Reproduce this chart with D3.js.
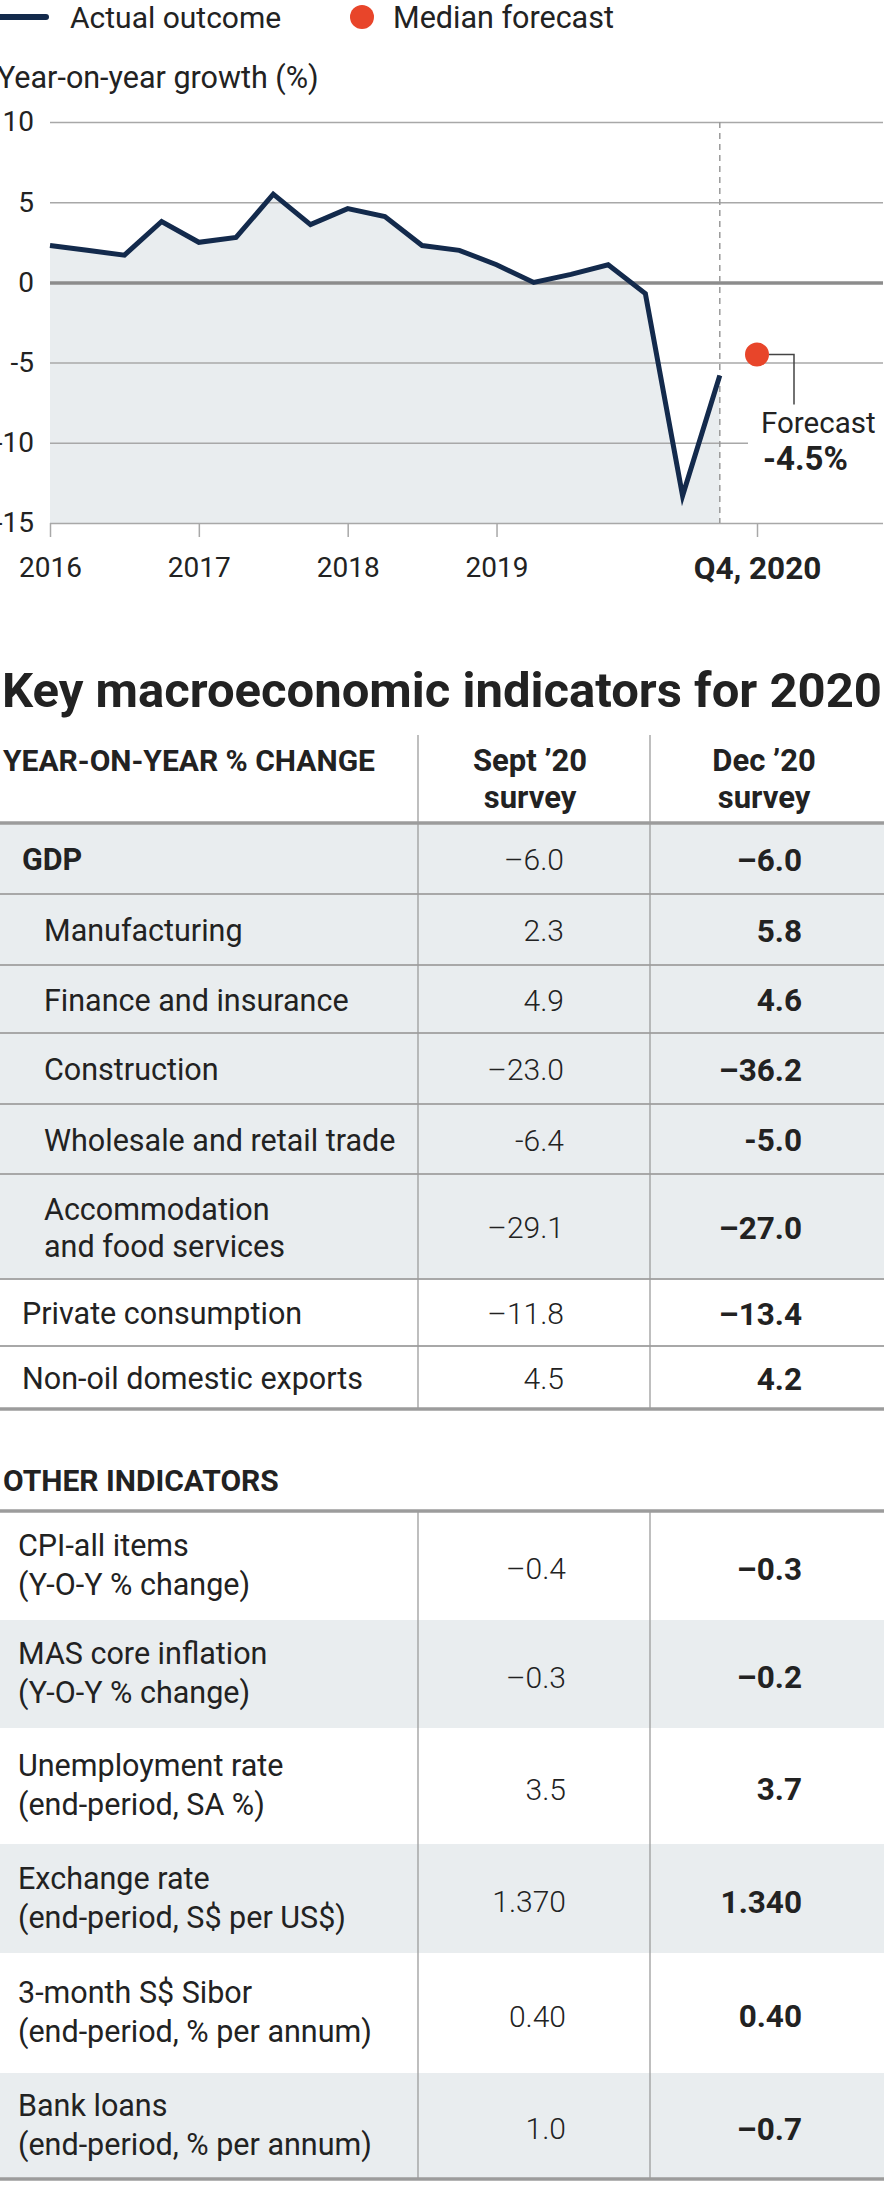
<!DOCTYPE html>
<html><head><meta charset="utf-8">
<script src="https://cdn.jsdelivr.net/npm/d3@7"></script>
<style>
body{margin:0;background:#fff}
svg{display:block}
text{font-family:Roboto,"Noto Sans",sans-serif;fill:#222}
</style>
</head><body>
<svg id="c" width="887" height="2186"></svg>
<script>
// ---------- DATA ----------
const quarterIndex = d3.range(19); // 2016 Q1 ... 2020 Q3
const actualGrowth = [2.3, 2.0, 1.7, 3.8, 2.5, 2.8, 5.5, 3.6, 4.6, 4.1, 2.3, 2.0, 1.1, 0.0, 0.5, 1.1, -0.7, -13.3, -5.8];
const forecastQuarter = 19;      // Q4 2020
const forecastValue = -4.5;
const yTicks = [10, 5, 0, -5, -10, -15];
const xTickQuarters = [0, 4, 8, 12, 19];
const xTickLabels = ["2016", "2017", "2018", "2019", "Q4, 2020"];

const gdpLabels = ["GDP", "Manufacturing", "Finance and insurance", "Construction", "Wholesale and retail trade",
  ["Accommodation", "and food services"], "Private consumption", "Non-oil domestic exports"];
const gdpSept = ["–6.0", "2.3", "4.9", "–23.0", "-6.4", "–29.1", "–11.8", "4.5"];
const gdpDec  = ["–6.0", "5.8", "4.6", "–36.2", "-5.0", "–27.0", "–13.4", "4.2"];

const otherLabels = [["CPI-all items", "(Y-O-Y % change)"], ["MAS core inflation", "(Y-O-Y % change)"],
  ["Unemployment rate", "(end-period, SA %)"], ["Exchange rate", "(end-period, S$ per US$)"],
  ["3-month S$ Sibor", "(end-period, % per annum)"], ["Bank loans", "(end-period, % per annum)"]];
const otherSept = ["–0.4", "–0.3", "3.5", "1.370", "0.40", "1.0"];
const otherDec  = ["–0.3", "–0.2", "3.7", "1.340", "0.40", "–0.7"];

// ---------- STYLE / LAYOUT ----------
const NAVY = "#132a4c", RED = "#e8452a", SHADE = "#e9edef", GRID = "#a8a8a8", RULE = "#9c9c9c";
const svg = d3.select("#c");
const plotL = 50, plotR = 883;
const LBL = 30.5, SEPT = 30, DEC = 31.5;

const x = d3.scaleLinear().domain([0, 19]).range([50, 757]);
const y = d3.scaleLinear().domain([-15, 10]).range([523, 122]);

// Legend
svg.append("line").attr("x1", -4).attr("x2", 46).attr("y1", 17).attr("y2", 17)
  .attr("stroke", NAVY).attr("stroke-width", 6).attr("stroke-linecap", "round");
svg.append("text").attr("x", 70).attr("y", 17).attr("dy", "0.35em").attr("font-size", 30).attr("fill", "#333").text("Actual outcome");
svg.append("circle").attr("cx", 362).attr("cy", 17).attr("r", 12).attr("fill", RED);
svg.append("text").attr("x", 393).attr("y", 17).attr("dy", "0.35em").attr("font-size", 30.5).attr("fill", "#333").text("Median forecast");

svg.append("text").attr("x", -3).attr("y", 77).attr("dy", "0.35em").attr("font-size", 30.5).attr("fill", "#333").text("Year-on-year growth (%)");

// Area fill
const pts = quarterIndex.map((q, i) => ({q, v: actualGrowth[i]}));
svg.append("path").datum(pts)
  .attr("d", d3.area().x(d => x(d.q)).y0(y(-15)).y1(d => y(d.v)))
  .attr("fill", SHADE);

// Y axis with gridlines
const yAx = svg.append("g").attr("transform", `translate(${plotL},0)`)
  .call(d3.axisLeft(y).tickValues(yTicks).tickSize(-(plotR - plotL)).tickPadding(16).tickFormat(d3.format("d")));
yAx.select(".domain").remove();
yAx.selectAll(".tick line").attr("stroke", GRID).attr("stroke-width", 1.5)
  .attr("x2", d => d === -10 ? (748 - plotL) : (plotR - plotL));
yAx.selectAll(".tick").filter(d => d === 0).select("line").attr("stroke", "#8c8c8c").attr("stroke-width", 3.5);
yAx.selectAll(".tick text").attr("font-size", 28).attr("fill", "#333").style("font-family", "Roboto")
  .text(d => d3.format("d")(d).replace("−", "-"));

// X axis ticks
const xAx = svg.append("g").attr("transform", `translate(0,${y(-15)})`)
  .call(d3.axisBottom(x).tickValues(xTickQuarters).tickSize(14).tickPadding(20).tickFormat((d, i) => xTickLabels[i]));
xAx.select(".domain").remove();
xAx.selectAll(".tick line").attr("stroke", GRID).attr("stroke-width", 1.5);
xAx.selectAll(".tick text").attr("fill", "#333").style("font-family", "Roboto")
  .attr("font-weight", d => d === 19 ? 700 : 400).attr("font-size", d => d === 19 ? 31.5 : 28);

// dashed divider at last actual
svg.append("line").attr("x1", x(18)).attr("x2", x(18)).attr("y1", y(10)).attr("y2", y(-15))
  .attr("stroke", "#9a9a9a").attr("stroke-width", 1.5).attr("stroke-dasharray", "6,5");

// Line
svg.append("path").datum(pts)
  .attr("d", d3.line().x(d => x(d.q)).y(d => y(d.v)))
  .attr("fill", "none").attr("stroke", NAVY).attr("stroke-width", 5).attr("stroke-linejoin", "miter").attr("stroke-miterlimit", 6);

// Forecast
const fx = x(forecastQuarter), fy = y(forecastValue);
svg.append("path").attr("d", `M${fx + 12},${fy} H${fx + 37} V${fy + 50}`)
  .attr("fill", "none").attr("stroke", "#444").attr("stroke-width", 1.5);
svg.append("circle").attr("cx", fx).attr("cy", fy).attr("r", 12).attr("fill", RED);
svg.append("text").attr("x", fx + 4).attr("y", 423).attr("dy", "0.35em").attr("font-size", 29.5).text("Forecast");
svg.append("text").attr("x", fx + 6).attr("y", 458).attr("dy", "0.35em").attr("font-size", 33).attr("font-weight", 700)
  .text(d3.format(".1f")(forecastValue).replace("−", "-") + "%");

// ---------- TABLE 1 ----------
svg.append("text").attr("x", 2).attr("y", 690).attr("dy", "0.35em").attr("font-size", 49).attr("font-weight", 700)
  .text("Key macroeconomic indicators for 2020");

const col1 = 418, col2 = 650, sepR = 564, decR = 802, tblR = 884;

svg.append("text").attr("x", 3).attr("y", 760).attr("dy", "0.35em").attr("font-size", 30).attr("font-weight", 700).text("YEAR-ON-YEAR % CHANGE");
[["Sept ’20", 530], ["Dec ’20", 764]].forEach(([t, cx]) => {
  svg.append("text").attr("x", cx).attr("y", 760).attr("dy", "0.35em").attr("text-anchor", "middle").attr("font-size", 31).attr("font-weight", 700).text(t);
  svg.append("text").attr("x", cx).attr("y", 797).attr("dy", "0.35em").attr("text-anchor", "middle").attr("font-size", 31).attr("font-weight", 700).text("survey");
});

function rowLayout(top, heights) {
  const out = []; let t = top;
  heights.forEach(h => { out.push({top: t, h}); t += h; });
  return out;
}
const gdpRowsL = rowLayout(823, [71, 71, 68, 71, 70, 105, 67, 63]);
const gdpKind = ["total", "sub", "sub", "sub", "sub", "sub", "main", "main"];
const g1 = svg.append("g");
gdpRowsL.forEach((r, i) => {
  const shaded = gdpKind[i] !== "main";
  if (shaded) g1.append("rect").attr("x", 0).attr("y", r.top).attr("width", tblR).attr("height", r.h).attr("fill", SHADE);
  const cy = r.top + r.h / 2 + 1;
  const lx = gdpKind[i] === "sub" ? 44 : 22;
  const lab = Array.isArray(gdpLabels[i]) ? gdpLabels[i] : [gdpLabels[i]];
  lab.forEach((t, j) => {
    g1.append("text").attr("x", lx).attr("y", cy + (j - (lab.length - 1) / 2) * 37).attr("dy", "0.35em")
      .attr("font-size", LBL).attr("font-weight", gdpKind[i] === "total" ? 700 : 400).text(t);
  });
  g1.append("text").attr("x", sepR).attr("y", cy).attr("dy", "0.35em").attr("text-anchor", "end")
    .attr("font-size", SEPT).attr("font-weight", 300).attr("fill", "#333").text(gdpSept[i]);
  g1.append("text").attr("x", decR).attr("y", cy).attr("dy", "0.35em").attr("text-anchor", "end")
    .attr("font-size", DEC).attr("font-weight", 700).text(gdpDec[i]);
  if (i > 0) g1.append("line").attr("x1", 0).attr("x2", tblR).attr("y1", r.top).attr("y2", r.top).attr("stroke", GRID).attr("stroke-width", 2);
});
const gdpBottom = gdpRowsL[gdpRowsL.length - 1].top + gdpRowsL[gdpRowsL.length - 1].h;
[col1, col2].forEach(cx => g1.append("line").attr("x1", cx).attr("x2", cx).attr("y1", 735).attr("y2", gdpBottom).attr("stroke", RULE).attr("stroke-width", 1.3));
g1.append("line").attr("x1", 0).attr("x2", tblR).attr("y1", 823).attr("y2", 823).attr("stroke", RULE).attr("stroke-width", 3.5);
g1.append("line").attr("x1", 0).attr("x2", tblR).attr("y1", gdpBottom).attr("y2", gdpBottom).attr("stroke", RULE).attr("stroke-width", 3.5);

// ---------- TABLE 2 ----------
svg.append("text").attr("x", 3).attr("y", 1480).attr("dy", "0.35em").attr("font-size", 30).attr("font-weight", 700).text("OTHER INDICATORS");
const otherRowsL = rowLayout(1511, [109, 108, 116, 109, 120, 105]);
const g2 = svg.append("g");
otherRowsL.forEach((r, i) => {
  if (i % 2 === 1) g2.append("rect").attr("x", 0).attr("y", r.top).attr("width", tblR).attr("height", r.h).attr("fill", SHADE);
  const cy = r.top + r.h / 2;
  otherLabels[i].forEach((t, j) => {
    g2.append("text").attr("x", 18).attr("y", cy + (j - 0.5) * 39 - 1).attr("dy", "0.35em").attr("font-size", LBL).text(t);
  });
  g2.append("text").attr("x", sepR + 2).attr("y", cy + 3).attr("dy", "0.35em").attr("text-anchor", "end")
    .attr("font-size", SEPT).attr("font-weight", 300).attr("fill", "#333").text(otherSept[i]);
  g2.append("text").attr("x", decR).attr("y", cy + 3).attr("dy", "0.35em").attr("text-anchor", "end")
    .attr("font-size", DEC).attr("font-weight", 700).text(otherDec[i]);
});
const otherBottom = otherRowsL[otherRowsL.length - 1].top + otherRowsL[otherRowsL.length - 1].h;
[col1, col2].forEach(cx => g2.append("line").attr("x1", cx).attr("x2", cx).attr("y1", 1511).attr("y2", otherBottom).attr("stroke", RULE).attr("stroke-width", 1.3));
g2.append("line").attr("x1", 0).attr("x2", tblR).attr("y1", 1511).attr("y2", 1511).attr("stroke", RULE).attr("stroke-width", 3.5);
g2.append("line").attr("x1", 0).attr("x2", tblR).attr("y1", otherBottom + 1).attr("y2", otherBottom + 1).attr("stroke", RULE).attr("stroke-width", 3.5);
</script>
</body></html>
